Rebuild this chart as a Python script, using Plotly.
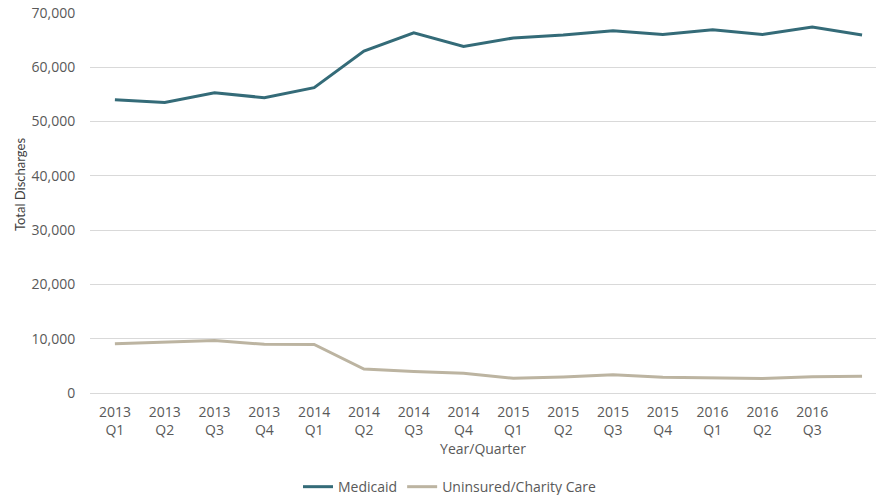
import plotly.graph_objects as go

# Quarterly inpatient discharges by payer
quarters = ["2013 Q1", "2013 Q2", "2013 Q3", "2013 Q4",
            "2014 Q1", "2014 Q2", "2014 Q3", "2014 Q4",
            "2015 Q1", "2015 Q2", "2015 Q3", "2015 Q4",
            "2016 Q1", "2016 Q2", "2016 Q3", "2016 Q4"]
tick_labels = ["2013<br>Q1", "2013<br>Q2", "2013<br>Q3", "2013<br>Q4",
               "2014<br>Q1", "2014<br>Q2", "2014<br>Q3", "2014<br>Q4",
               "2015<br>Q1", "2015<br>Q2", "2015<br>Q3", "2015<br>Q4",
               "2016<br>Q1", "2016<br>Q2", "2016<br>Q3", ""]
medicaid = [54000, 53500, 55300, 54400, 56250, 63000, 66350, 63850,
            65400, 65950, 66750, 66050, 66900, 66050, 67400, 65950]
uninsured = [9050, 9350, 9650, 8980, 8950, 4400, 3950, 3650,
             2700, 2950, 3380, 2900, 2720, 2650, 3000, 3070]

x = list(range(len(quarters)))

fig = go.Figure()
fig.add_trace(go.Scatter(x=x, y=medicaid, name="Medicaid", mode="lines",
                         line=dict(color="#346B78", width=3),
                         customdata=quarters))
fig.add_trace(go.Scatter(x=x, y=uninsured, name="Uninsured/Charity Care", mode="lines",
                         line=dict(color="#BCB4A1", width=3),
                         customdata=quarters))

tick_font = dict(family="Open Sans", size=14, color="#595959")

fig.update_layout(
    width=876, height=495,
    margin=dict(l=90, r=0, t=13, b=102),
    plot_bgcolor="white", paper_bgcolor="white",
    showlegend=True,
    legend=dict(orientation="h", xref="container", x=298 / 876, xanchor="left",
                yref="container", y=0.016, yanchor="middle",
                font=dict(family="Open Sans", size=14, color="#595959"),
                itemwidth=30),
    xaxis=dict(range=[-0.5, 15.28], tickvals=x, ticktext=tick_labels,
               showgrid=False, zeroline=False, showline=False,
               tickfont=tick_font, ticks="outside", ticklen=6, tickcolor="white",
               title=dict(text="Year/Quarter", font=dict(family="Open Sans", size=14, color="#595959"),
                          standoff=4)),
    yaxis=dict(range=[0, 70000], dtick=10000, tickformat=",d",
               showgrid=True, gridcolor="#D9D9D9", gridwidth=1,
               zeroline=True, zerolinecolor="#D9D9D9", zerolinewidth=1,
               tickfont=tick_font, ticks="outside", ticklen=11, tickcolor="white"),
    annotations=[dict(text="Total Discharges", textangle=-90, showarrow=False,
                      xref="paper", x=(20 - 90) / 786, xanchor="center",
                      yref="paper", y=(393 - 185) / 380, yanchor="middle",
                      font=dict(family="Liberation Sans Narrow, Lato", size=13, color="#404040"))],
)

fig.write_html("out.html")
